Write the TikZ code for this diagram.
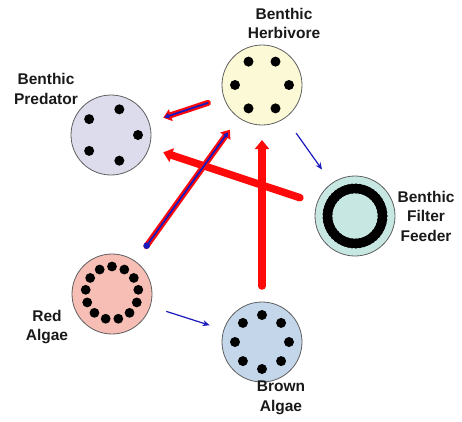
\documentclass[tikz,border=0pt]{standalone}
\usepackage{fontspec}
\setmainfont{Liberation Sans}
\usetikzlibrary{arrows.meta,calc}
\definecolor{herbfill}{RGB}{251,249,214}
\definecolor{predfill}{RGB}{221,220,236}
\definecolor{filtfill}{RGB}{199,231,227}
\definecolor{redfill}{RGB}{246,190,181}
\definecolor{brownfill}{RGB}{196,214,234}
\definecolor{rimgray}{RGB}{95,95,95}
\definecolor{arrred}{RGB}{255,10,10}
\definecolor{arrblue}{RGB}{25,25,190}
\tikzset{
  organism/.style={circle, draw=rimgray, line width=0.8pt, minimum size=80pt, inner sep=0pt, outer sep=0pt},
  lbl/.style={align=center, font=\fontsize{15.5}{19.5}\selectfont\bfseries, text=black!90},
  dotfill/.style={fill=black},
  thickred/.style={draw=arrred, line width=7.5pt, line cap=round, -{Triangle[width=14pt,length=9pt]}},
  midred/.style={draw=arrred, line width=6pt, line cap=round, -{Triangle[width=12pt,length=8pt]}},
  bluecore/.style={draw=arrblue, line width=1.8pt, line cap=round, -{Triangle[width=5pt,length=5pt]}},
  thinblue/.style={draw=arrblue, line width=1.2pt, -{Stealth[width=6pt,length=7pt]}}
}
\begin{document}
\begin{tikzpicture}[x=1pt,y=-1pt]
\useasboundingbox (0,0) rectangle (462,421);
% organisms
\node[organism, fill=herbfill]  (herb)  at (262,85)  {};
\node[organism, fill=predfill]  (pred)  at (111,135) {};
\node[organism, fill=filtfill]  (filt)  at (355,216) {};
\node[organism, fill=redfill]   (red)   at (112,294) {};
\node[organism, fill=brownfill] (brown) at (262,342) {};
% dots
\foreach \a in {0,60,...,300} \fill[dotfill] (herb) ++(\a:27pt) circle (5pt);
\foreach \a in {0,72,...,288} \fill[dotfill] (pred) ++(\a:27pt) circle (5pt);
\foreach \k in {0,...,12} \fill[dotfill] ($(red)+(0,-1)$) ++({90+\k*360/13}:26.5pt) circle (4.9pt);
\foreach \a in {0,45,...,315} \fill[dotfill] (brown) ++(\a:27pt) circle (5pt);
\draw[black, line width=9pt] (filt) circle (27.5pt);
\foreach \a in {0,8,...,352} \fill[dotfill] (filt) ++(\a:27.5pt) circle (5.1pt);
% labels
\node[lbl] (herbl)  at (284,23.5) {Benthic\\Herbivore};
\node[lbl] (predl)  at (46,89)    {Benthic\\Predator};
\node[lbl] (filtl)  at (426,216)  {Benthic\\Filter\\Feeder};
\node[lbl] (redl)   at (47,327)   {Red\\Algae};
\node[lbl] (brownl) at (281,398)  {Brown\\Algae};
% connectors
\draw[thickred, shorten <=16pt, shorten >=15pt] (brown) -- (herb);
\draw[thickred, shorten <=18pt, shorten >=15pt] (filt) -- (pred);
\draw[midred, shorten <=19pt, shorten >=15pt] (red) -- (herb);
\draw[bluecore, shorten <=19pt, shorten >=18pt] (red) -- (herb);
\fill[arrblue] ($(red)!59.5pt!(herb)$) circle (3.3pt);
\draw[midred, shorten <=17pt, shorten >=15pt] (herb) -- (pred);
\draw[bluecore, shorten <=17pt, shorten >=16pt] (herb) -- (pred);
\draw[thinblue, shorten <=19pt, shorten >=17pt] (herb) -- (filt);
\draw[thinblue, shorten <=17pt, shorten >=15pt] (red) -- (brown);
\end{tikzpicture}
\end{document}
